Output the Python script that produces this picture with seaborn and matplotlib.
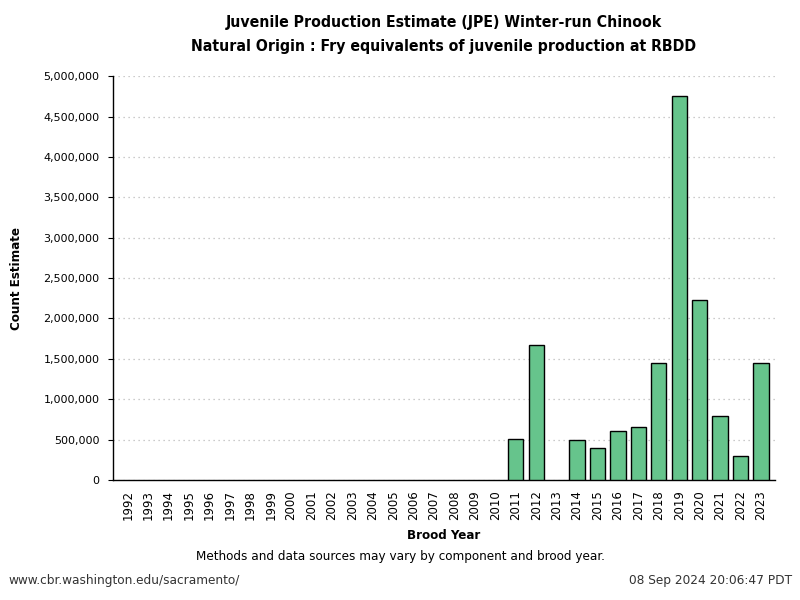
import numpy as np
import pandas as pd
import matplotlib
matplotlib.use("Agg")
import matplotlib.pyplot as plt
import seaborn as sns
from matplotlib.ticker import FuncFormatter, MultipleLocator

# brood years and fry-equivalent estimates
years = [str(y) for y in range(1992, 2024)]
estimates = [0] * 19 + [512000, 1675000, 0, 500000, 401000, 611000, 661000,
                        1452000, 4759000, 2232000, 797000, 302000, 1452000]

df = pd.DataFrame({"year": years, "count": estimates})

sns.set_style("white")
plt.rcParams["font.family"] = ["DejaVu Sans"]
plt.rcParams["text.color"] = "black"
plt.rcParams["axes.labelcolor"] = "black"
plt.rcParams["xtick.color"] = "black"
plt.rcParams["ytick.color"] = "black"
cond = dict(family="DejaVu Sans", stretch="condensed")

fig = plt.figure(figsize=(8, 6), dpi=100)
ax = fig.add_axes([0.141, 0.2, 0.828, 0.673])

sns.barplot(data=df, x="year", y="count", color="#66C48C", width=0.75,
            edgecolor="black", linewidth=1.0, saturation=1, ax=ax, zorder=3)
# years without an estimate have no bar in the original
for p in ax.patches:
    if p.get_height() == 0:
        p.set_visible(False)

ax.set_ylim(0, 5000000)
ax.set_xlim(-0.73, len(years) - 0.3)
ax.yaxis.set_major_locator(MultipleLocator(500000))
ax.yaxis.set_major_formatter(FuncFormatter(lambda v, p: f"{int(v):,}"))
ax.grid(axis="y", linestyle=(0, (1, 3)), color="#bbbbbb", linewidth=0.9, zorder=0)
ax.set_axisbelow(True)

for s in ["top", "right"]:
    ax.spines[s].set_visible(False)
for s in ["left", "bottom"]:
    ax.spines[s].set_color("black")
    ax.spines[s].set_linewidth(1.0)

ax.tick_params(axis="y", left=True, length=3.6, width=0.8, labelsize=8, pad=6)
ax.tick_params(axis="x", bottom=False, labelsize=8.5, pad=4)
plt.setp(ax.get_xticklabels(), rotation=90)

ax.set_xlabel("Brood Year", fontsize=9.5, fontweight="bold", labelpad=6, **cond)
ax.set_ylabel("Count Estimate", fontsize=9.5, fontweight="bold", labelpad=15, **cond)

fig.text(0.555, 0.962, "Juvenile Production Estimate (JPE) Winter-run Chinook",
         ha="center", va="center", fontsize=11.3, fontweight="bold", **cond)
fig.text(0.555, 0.922, "Natural Origin : Fry equivalents of juvenile production at RBDD",
         ha="center", va="center", fontsize=11.3, fontweight="bold", **cond)
fig.text(0.5, 0.072, "Methods and data sources may vary by component and brood year.",
         ha="center", va="center", fontsize=9.6, **cond)
fig.text(0.01, 0.032, "www.cbr.washington.edu/sacramento/", ha="left", va="center",
         fontsize=9.7, color="#333333", **cond)
fig.text(0.99, 0.032, "08 Sep 2024 20:06:47 PDT", ha="right", va="center",
         fontsize=9.7, color="#333333", **cond)

fig.savefig("out.png", dpi=100)
